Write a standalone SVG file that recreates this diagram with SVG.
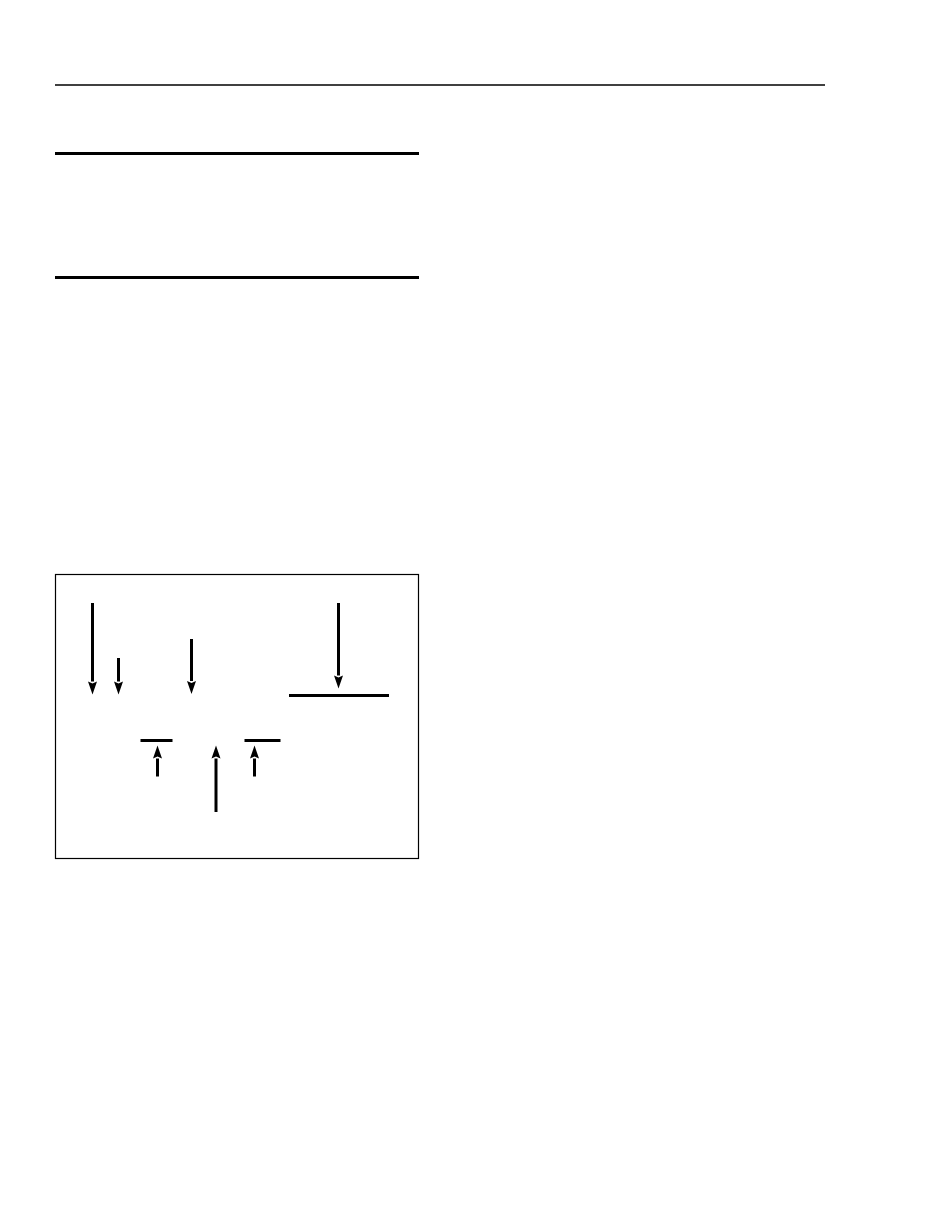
<svg xmlns="http://www.w3.org/2000/svg" width="935" height="1210" viewBox="0 0 935 1210">
  <style>
    .rule { stroke: #000; fill: none; }
    .bar { stroke: #000; stroke-width: 3; fill: none; }
    .arrow { stroke: #000; stroke-width: 3; fill: none; marker-end: url(#head); }
  </style>
  <defs>
    <marker id="head" markerUnits="userSpaceOnUse" viewBox="0 -4.5 13 9" markerWidth="13" markerHeight="9" refX="0" refY="0" orient="auto" overflow="visible">
      <path d="M0,-4.5 L13,0 L0,4.5 L2,0 z" fill="#000"/>
    </marker>
  </defs>
  <rect width="935" height="1210" fill="#fff"/>
  <g id="rules">
    <line class="rule" x1="55" y1="85" x2="825" y2="85" stroke-width="1.5"/>
    <line class="rule" x1="55" y1="153.5" x2="419" y2="153.5" stroke-width="3"/>
    <line class="rule" x1="55" y1="277.5" x2="419" y2="277.5" stroke-width="3"/>
  </g>
  <g id="frame">
    <rect x="55.5" y="574.5" width="363" height="284" fill="none" stroke="#000" stroke-width="1.2"/>
  </g>
  <g id="plate-right">
    <line class="bar" x1="289" y1="695.5" x2="389" y2="695.5"/>
  </g>
  <g id="bar-left">
    <line class="bar" x1="140.5" y1="740.5" x2="172.5" y2="740.5"/>
  </g>
  <g id="bar-right">
    <line class="bar" x1="244.5" y1="740.5" x2="280.5" y2="740.5"/>
  </g>
  <g id="connectors">
    <line class="arrow" x1="92.5" y1="603" x2="92.5" y2="681.5"/>
    <line class="arrow" x1="118.5" y1="658" x2="118.5" y2="681.5"/>
    <line class="arrow" x1="191.5" y1="639" x2="191.5" y2="681"/>
    <line class="arrow" x1="338.5" y1="603" x2="338.5" y2="675.5"/>
    <line class="arrow" x1="157.5" y1="776.5" x2="157.5" y2="758.5"/>
    <line class="arrow" x1="216" y1="812" x2="216" y2="758.5"/>
    <line class="arrow" x1="254.5" y1="776.5" x2="254.5" y2="758.5"/>
  </g>
</svg>
